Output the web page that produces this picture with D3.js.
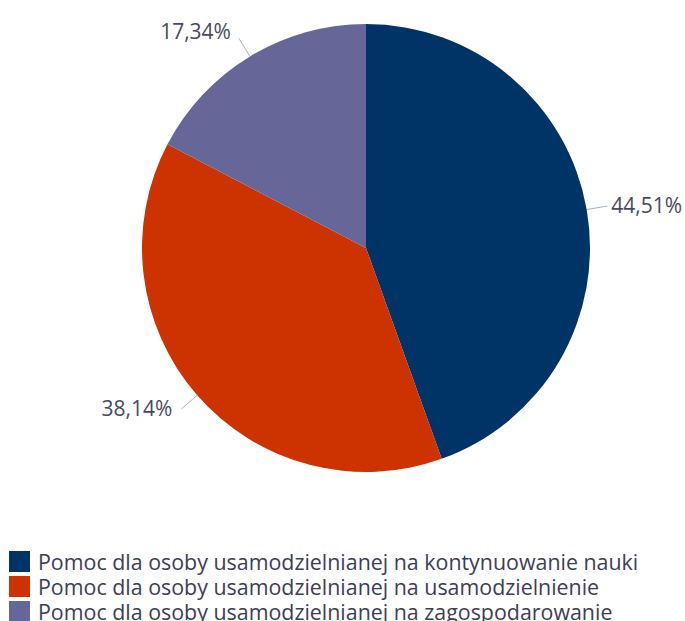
<!DOCTYPE html>
<html>
<head>
<meta charset="utf-8">
<script src="https://cdn.jsdelivr.net/npm/d3@7"></script>
<style>
  body { margin: 0; background: #fff; }
  svg { font-family: "Open Sans", sans-serif; }
</style>
</head>
<body>
<svg id="pie-chart"></svg>
<script>
// chart data
const categories = [
  "Pomoc dla osoby usamodzielnianej na kontynuowanie nauki",
  "Pomoc dla osoby usamodzielnianej na usamodzielnienie",
  "Pomoc dla osoby usamodzielnianej na zagospodarowanie"
];
const values = [44.51, 38.14, 17.34];
const labels = ["44,51%", "38,14%", "17,34%"];
const colors = ["#003366", "#cc3300", "#666699"];

const width = 685, height = 621;
const cx = 366, cy = 248, radius = 224;

const svg = d3.select("#pie-chart")
  .attr("width", width)
  .attr("height", height);

const color = d3.scaleOrdinal().domain(categories).range(colors);

const pieData = categories.map((c, i) => ({ name: c, value: values[i], label: labels[i] }));

const pie = d3.pie().value(d => d.value).sort(null);
const arc = d3.arc().innerRadius(0).outerRadius(radius);

const g = svg.append("g").attr("transform", `translate(${cx},${cy})`);
const arcs = pie(pieData);

g.selectAll("path")
  .data(arcs)
  .enter()
  .append("path")
  .attr("d", arc)
  .attr("fill", d => color(d.data.name));

// point on a given radius at the middle of a slice
function pt(d, r) {
  const a = (d.startAngle + d.endAngle) / 2;
  return [r * Math.sin(a), -r * Math.cos(a)];
}
const isRight = d => pt(d, 1)[0] >= 0;

// leader lines
g.selectAll("line.conn")
  .data(arcs)
  .enter()
  .append("line")
  .attr("class", "conn")
  .attr("x1", d => pt(d, radius)[0])
  .attr("y1", d => pt(d, radius)[1])
  .attr("x2", d => pt(d, radius + 21)[0])
  .attr("y2", d => pt(d, radius + 21)[1])
  .attr("stroke", "#a3b3c9")
  .attr("stroke-width", 1);

// slice labels
g.selectAll("text.lbl")
  .data(arcs)
  .enter()
  .append("text")
  .attr("class", "lbl")
  .attr("x", d => pt(d, radius + 25)[0] + (isRight(d) ? 0 : -6))
  .attr("y", d => pt(d, radius + 25)[1] + (isRight(d) ? 0 : -3))
  .attr("dy", "0.35em")
  .attr("text-anchor", d => isRight(d) ? "start" : "end")
  .attr("fill", "#4a4a5e")
  .style("font-size", "21px")
  .text(d => d.data.label);

// legend
const legend = svg.append("g").attr("transform", "translate(9,551)");
const rows = legend.selectAll("g")
  .data(categories)
  .enter()
  .append("g")
  .attr("transform", (d, i) => `translate(0,${i * 25})`);

rows.append("rect")
  .attr("width", 21)
  .attr("height", 21)
  .attr("fill", d => color(d));

rows.append("text")
  .attr("x", 29)
  .attr("y", 11)
  .attr("dy", "0.35em")
  .attr("fill", "#3d3d55")
  .style("font-size", "21.4px")
  .text(d => d);
</script>
</body>
</html>
